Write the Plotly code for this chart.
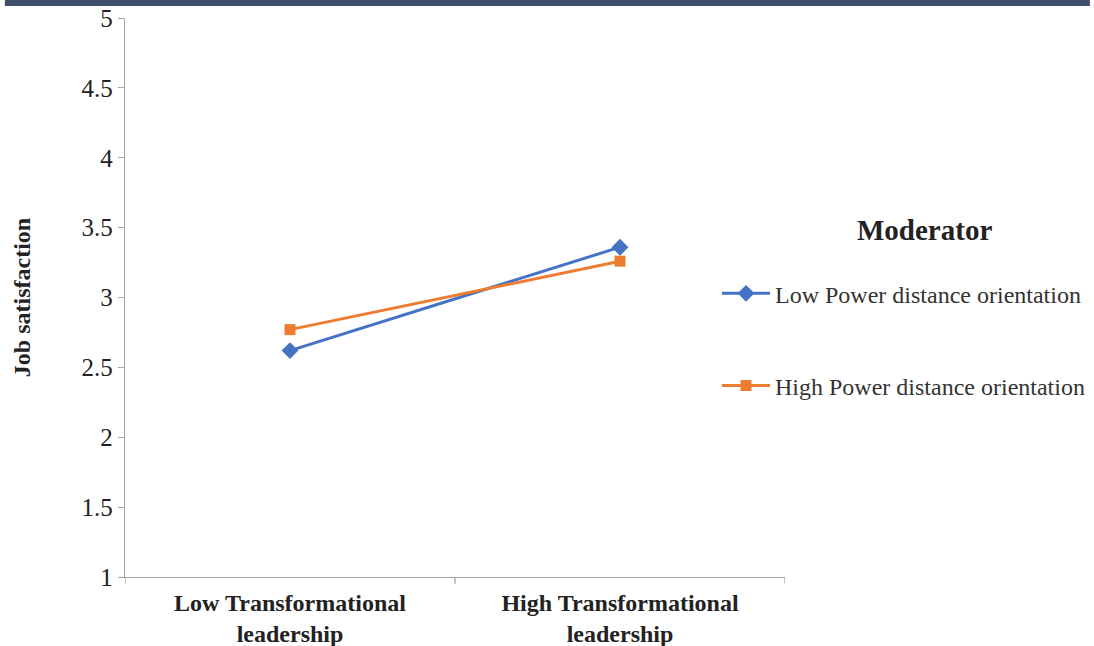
import plotly.graph_objects as go

# Interaction plot: job satisfaction by transformational leadership level
categories = ["Low Transformational<br>leadership", "High Transformational<br>leadership"]
low_pdo = [2.62, 3.36]
high_pdo = [2.77, 3.26]
series_names = ["Low Power distance orientation", "High Power distance orientation"]
y_ticks = [1, 1.5, 2, 2.5, 3, 3.5, 4, 4.5, 5]
y_tick_text = ["1", "1.5", "2", "2.5", "3", "3.5", "4", "4.5", "5"]

BLUE = "#4472C4"
ORANGE = "#ED7D31"
SERIF = "Liberation Serif, Times New Roman, serif"

fig = go.Figure()
fig.add_trace(go.Scatter(
    x=categories, y=low_pdo, name=series_names[0], mode="lines+markers",
    line=dict(color=BLUE, width=3),
    marker=dict(symbol="diamond", size=13, color=BLUE),
    legendgroup="a",
))
fig.add_trace(go.Scatter(
    x=categories, y=high_pdo, name=series_names[1], mode="lines+markers",
    line=dict(color=ORANGE, width=3),
    marker=dict(symbol="square", size=11, color=ORANGE),
    legendgroup="b",
))

fig.update_layout(
    width=1094, height=646,
    margin=dict(l=125, r=309, t=18, b=69, autoexpand=False),
    paper_bgcolor="white", plot_bgcolor="white",
    font=dict(family=SERIF, color="#222222"),
    showlegend=True,
    legend=dict(
        x=0.897, y=0.547, xanchor="left", yanchor="top",
        font=dict(family=SERIF, size=24, color="#333333"),
        tracegroupgap=58, itemwidth=48,
        bgcolor="rgba(0,0,0,0)",
    ),
    xaxis=dict(
        type="category", range=[-0.5, 1.5], automargin=False,
        showline=True, linecolor="#a6a6a6", linewidth=1.3,
        ticks="", showgrid=False, zeroline=False,
        tickfont=dict(family=SERIF, size=24, color="#222222", weight="bold"),
        ticklabelstandoff=4,
        fixedrange=True,
    ),
    yaxis=dict(
        range=[1, 5], tickvals=y_ticks, ticktext=y_tick_text, automargin=False,
        showline=True, linecolor="#a6a6a6", linewidth=1.3,
        ticks="outside", ticklen=6, tickcolor="#a6a6a6",
        showgrid=False, zeroline=False,
        tickfont=dict(family=SERIF, size=25, color="#222222"),
        title=dict(text="<b>Job satisfaction</b>", font=dict(family=SERIF, size=24, color="#222222"), standoff=44),
    ),
    annotations=[
        dict(text="<b>Moderator</b>", xref="paper", yref="paper", x=1.212, y=0.621,
             xanchor="center", yanchor="middle", showarrow=False,
             font=dict(family=SERIF, size=29, color="#222222")),
    ],
    shapes=[
        # category separator ticks on the x axis
        dict(type="line", xref="x", yref="paper", x0=-0.5, x1=-0.5, y0=0, y1=-0.012,
             line=dict(color="#a6a6a6", width=1.3)),
        dict(type="line", xref="x", yref="paper", x0=0.5, x1=0.5, y0=0, y1=-0.012,
             line=dict(color="#a6a6a6", width=1.3)),
        dict(type="line", xref="x", yref="paper", x0=1.5, x1=1.5, y0=0, y1=-0.012,
             line=dict(color="#a6a6a6", width=1.3)),
        # dark header strip
        dict(type="rect", xref="paper", yref="paper", x0=-0.182, x1=1.462, y0=1.0215, y1=1.035,
             fillcolor="#3f4f6b", line=dict(width=0), layer="above"),
    ],
)

fig.write_html("out.html")
